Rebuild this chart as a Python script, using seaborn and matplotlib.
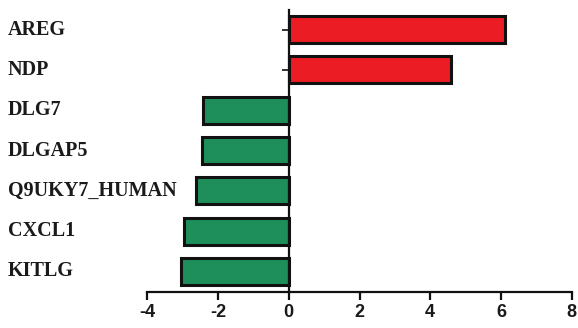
import matplotlib
matplotlib.use("Agg")
import matplotlib.pyplot as plt
import seaborn as sns
import pandas as pd

genes = ["AREG", "NDP", "DLG7", "DLGAP5", "Q9UKY7_HUMAN", "CXCL1", "KITLG"]
log_fc = [6.1, 4.6, -2.42, -2.44, -2.62, -2.95, -3.06]
direction = ["up" if v > 0 else "down" for v in log_fc]
x_ticks = [-4, -2, 0, 2, 4, 6, 8]

df = pd.DataFrame({"gene": genes, "fc": log_fc, "dir": direction})

sns.set_style("white")
fig = plt.figure(figsize=(5.78, 3.28), dpi=100)
ax = fig.add_axes([147.3 / 578, 1 - 291.5 / 328, 424.4 / 578, 282 / 328])

sns.barplot(data=df, x="fc", y="gene", hue="dir", orient="h",
            palette={"up": "#EC1C24", "down": "#1E8F5A"}, saturation=1,
            order=genes, dodge=False, width=0.67, legend=False,
            edgecolor="#111111", linewidth=2.2, ax=ax, zorder=2)

ax.set_xlim(-4, 8)
ax.set_ylim(len(genes) - 0.5, -0.5)
ax.set_xticks(x_ticks)
ax.set_xticklabels([str(t) for t in x_ticks],
                   fontdict={"family": "Liberation Sans", "weight": "bold", "size": 13})
ax.set_xlabel("")
ax.set_ylabel("")

for s in ["top", "right"]:
    ax.spines[s].set_visible(False)
ax.spines["left"].set_position(("data", 0))
for s in ["left", "bottom"]:
    ax.spines[s].set_linewidth(1.6)
    ax.spines[s].set_color("#111111")
    ax.spines[s].set_zorder(3)

ax.tick_params(axis="x", direction="out", length=6, width=1.6, color="#111111",
               pad=3, bottom=True, labelcolor="#1a1a1a")
ax.tick_params(axis="y", direction="out", length=5, width=1.2, color="#111111",
               left=True, labelleft=False)
for t in ax.yaxis.get_major_ticks():
    t.tick1line.set_zorder(4)

tr = ax.get_yaxis_transform()
for i, g in enumerate(genes):
    ax.text((8 - 147.3) / 424.4, i, g, transform=tr, ha="left", va="center",
            family="Liberation Serif", weight="bold", size=14.5, color="#1a1a1a",
            clip_on=False)

fig.savefig("out.png", dpi=100, facecolor="white")
